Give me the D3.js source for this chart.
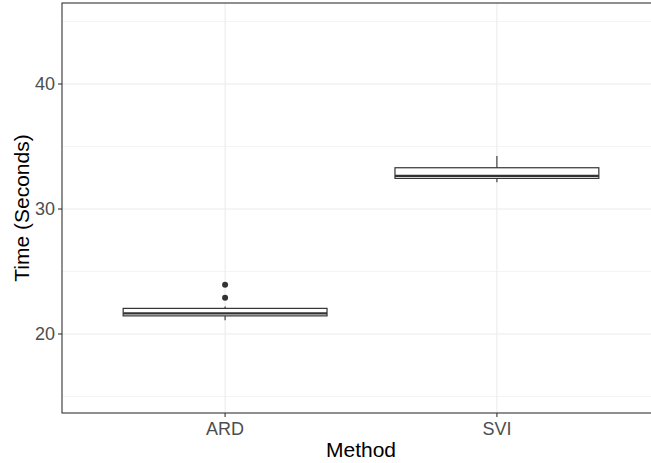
<!DOCTYPE html>
<html>
<head>
<meta charset="utf-8">
<script src="https://cdn.jsdelivr.net/npm/d3@7"></script>
<style>
  body { margin: 0; background: #fff; }
  svg { display: block; }
</style>
</head>
<body>
<div id="chart"></div>
<script>
const width = 651;
const height = 463;

// box plot stats
const methods = ["ARD", "SVI"];
const lowerWhisker = [21.1, 32.15];
const q1 = [21.45, 32.45];
const median = [21.65, 32.65];
const q3 = [22.05, 33.3];
const upperWhisker = [22.2, 34.25];
const outliers = [[23.95, 22.9], []];
const majorTicks = [20, 30, 40];
const minorTicks = [15, 25, 35, 45];

const margin = { top: 3, left: 62, bottom: 50 };
const panelRight = 660; // panel runs past the right edge of the picture
const panelBottom = height - margin.bottom;

const svg = d3.select("#chart")
  .append("svg")
  .attr("width", width)
  .attr("height", height);

// ggplot style discrete axis: centers at 1 and 2 on a 0.4..2.6 range
const xc = d3.scaleLinear().domain([0.4, 2.6]).range([margin.left, panelRight]);
const center = name => xc(methods.indexOf(name) + 1);
const boxHalf = xc(1.375) - xc(1);

const y = d3.scaleLinear()
  .domain([13.68, 46.48])
  .range([panelBottom, margin.top]);

// grid
svg.selectAll(".minor")
  .data(minorTicks)
  .enter()
  .append("line")
  .attr("x1", margin.left).attr("x2", panelRight)
  .attr("y1", d => y(d)).attr("y2", d => y(d))
  .attr("stroke", "#ebebeb")
  .attr("stroke-width", 0.55);

svg.selectAll(".major")
  .data(majorTicks)
  .enter()
  .append("line")
  .attr("x1", margin.left).attr("x2", panelRight)
  .attr("y1", d => y(d)).attr("y2", d => y(d))
  .attr("stroke", "#ebebeb")
  .attr("stroke-width", 1.1);

svg.selectAll(".vgrid")
  .data(methods)
  .enter()
  .append("line")
  .attr("x1", d => center(d)).attr("x2", d => center(d))
  .attr("y1", margin.top).attr("y2", panelBottom)
  .attr("stroke", "#ebebeb")
  .attr("stroke-width", 1.1);

// boxes
const g = svg.selectAll(".box")
  .data(methods)
  .enter()
  .append("g")
  .attr("class", "box");

g.append("line")
  .attr("x1", d => center(d)).attr("x2", d => center(d))
  .attr("y1", (d, i) => y(upperWhisker[i])).attr("y2", (d, i) => y(q3[i]))
  .attr("stroke", "#333").attr("stroke-width", 1.1);

g.append("line")
  .attr("x1", d => center(d)).attr("x2", d => center(d))
  .attr("y1", (d, i) => y(q1[i])).attr("y2", (d, i) => y(lowerWhisker[i]))
  .attr("stroke", "#333").attr("stroke-width", 1.1);

g.append("rect")
  .attr("x", d => center(d) - boxHalf)
  .attr("width", boxHalf * 2)
  .attr("y", (d, i) => y(q3[i]))
  .attr("height", (d, i) => y(q1[i]) - y(q3[i]))
  .attr("fill", "#fff")
  .attr("stroke", "#333")
  .attr("stroke-width", 1.2);

g.append("line")
  .attr("x1", d => center(d) - boxHalf).attr("x2", d => center(d) + boxHalf)
  .attr("y1", (d, i) => y(median[i])).attr("y2", (d, i) => y(median[i]))
  .attr("stroke", "#333").attr("stroke-width", 2.4);

g.each(function(d, i) {
  d3.select(this).selectAll("circle")
    .data(outliers[i])
    .enter()
    .append("circle")
    .attr("cx", center(d))
    .attr("cy", v => y(v))
    .attr("r", 3)
    .attr("fill", "#333");
});

// panel border
svg.append("rect")
  .attr("x", margin.left).attr("y", margin.top)
  .attr("width", panelRight - margin.left)
  .attr("height", panelBottom - margin.top)
  .attr("fill", "none")
  .attr("stroke", "#333")
  .attr("stroke-width", 1.1);

// axes
const font = "'Liberation Sans', Arial, Helvetica, sans-serif";

svg.selectAll(".ytick")
  .data(majorTicks)
  .enter()
  .append("line")
  .attr("x1", margin.left - 4).attr("x2", margin.left)
  .attr("y1", d => y(d)).attr("y2", d => y(d))
  .attr("stroke", "#333").attr("stroke-width", 1.1);

svg.selectAll(".ylabel")
  .data(majorTicks)
  .enter()
  .append("text")
  .attr("x", margin.left - 7)
  .attr("y", d => y(d))
  .attr("dy", "0.35em")
  .attr("text-anchor", "end")
  .attr("font-family", font)
  .attr("font-size", 18)
  .attr("fill", "#4d4d4d")
  .text(d => d);

svg.selectAll(".xtick")
  .data(methods)
  .enter()
  .append("line")
  .attr("x1", d => center(d)).attr("x2", d => center(d))
  .attr("y1", panelBottom).attr("y2", panelBottom + 4)
  .attr("stroke", "#333").attr("stroke-width", 1.1);

svg.selectAll(".xlabel")
  .data(methods)
  .enter()
  .append("text")
  .attr("x", d => center(d))
  .attr("y", 435)
  .attr("text-anchor", "middle")
  .attr("font-family", font)
  .attr("font-size", 18)
  .attr("fill", "#4d4d4d")
  .text(d => d);

svg.append("text")
  .attr("x", (margin.left + panelRight) / 2)
  .attr("y", 457)
  .attr("text-anchor", "middle")
  .attr("font-family", font)
  .attr("font-size", 21)
  .attr("fill", "#000")
  .text("Method");

svg.append("text")
  .attr("transform", `translate(29, ${(margin.top + panelBottom) / 2}) rotate(-90)`)
  .attr("text-anchor", "middle")
  .attr("font-family", font)
  .attr("font-size", 21)
  .attr("fill", "#000")
  .text("Time (Seconds)");
</script>
</body>
</html>
